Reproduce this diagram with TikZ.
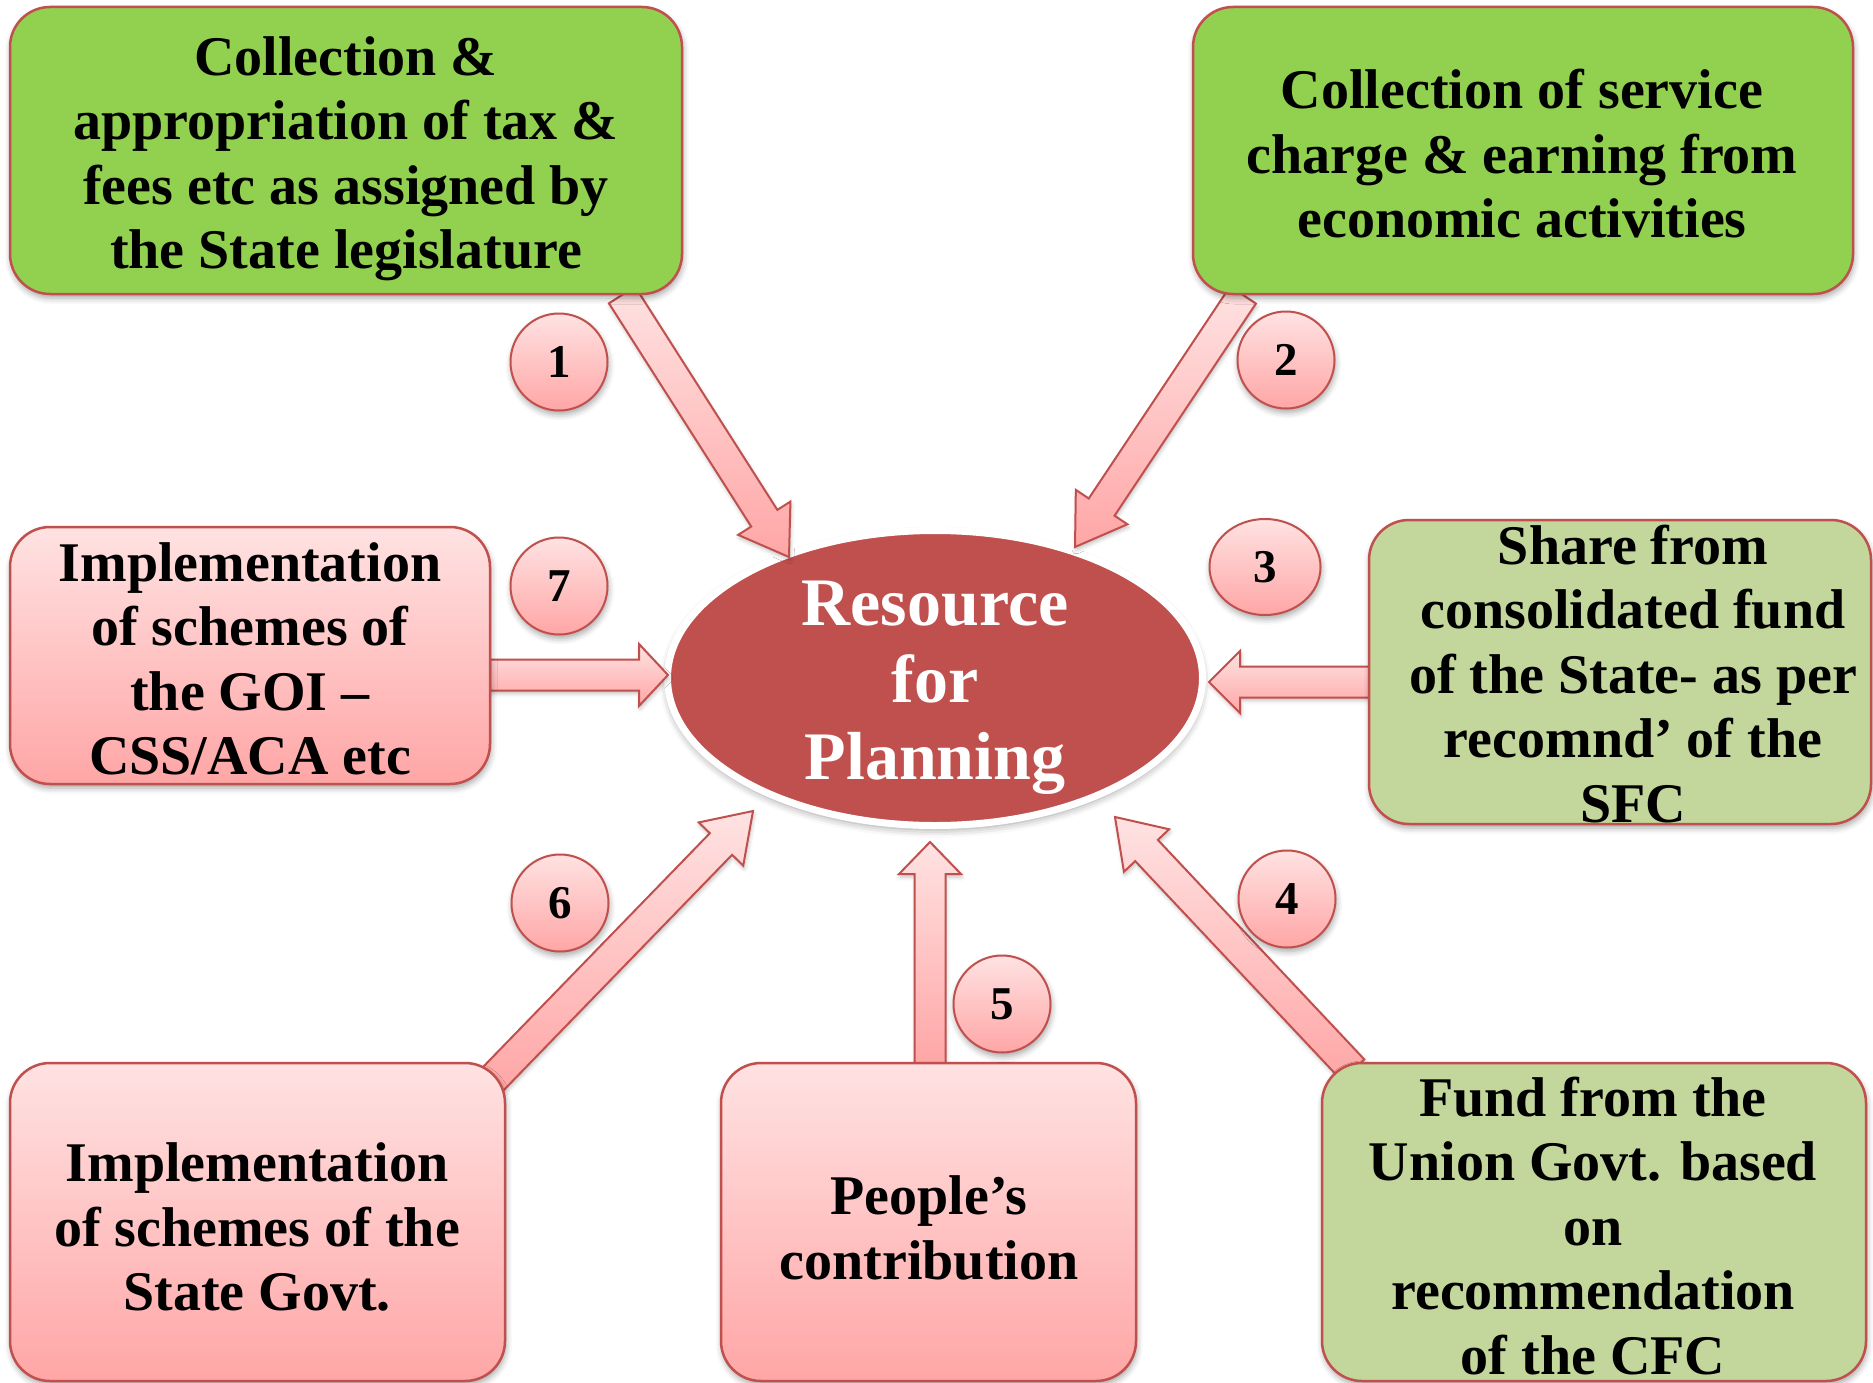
\documentclass[tikz,border=0pt]{standalone}
\usepackage{fontspec}
\setmainfont{Liberation Serif}
\usetikzlibrary{calc,shapes.geometric,shadows.blur}
\definecolor{bord}{HTML}{C0504D}
\definecolor{grn}{HTML}{92D050}
\definecolor{olv}{HTML}{C3D69B}
\definecolor{pinkT}{HTML}{FFE2E2}
\definecolor{pinkB}{HTML}{FFA6A6}
% block arrow from coordinate #1 to coordinate #2, head length #3
\newcommand\blockarrow[3]{%
  \coordinate (#1h) at ($(#2)!#3!(#1)$);
  \path[barrow] ($(#1)!15.5pt!90:(#2)$) -- ($(#1h)!15.5pt!90:(#2)$)
    -- ($(#1h)!31pt!90:(#2)$) -- (#2) -- ($(#1h)!31pt!-90:(#2)$)
    -- ($(#1h)!15.5pt!-90:(#2)$) -- ($(#1)!15.5pt!-90:(#2)$) -- cycle;
}
\begin{document}
\begin{tikzpicture}[x=1pt,y=-1pt,
  shad/.style={blur shadow={shadow xshift=1pt, shadow yshift=-4pt, shadow blur radius=6pt, shadow opacity=35}},
  box/.style={rectangle, rounded corners=40pt, draw=bord, line width=2.5pt, inner sep=0pt, shad},
  gbox/.style={box, fill=grn},
  obox/.style={box, fill=olv},
  pbox/.style={box, top color=pinkT, bottom color=pinkB},
  txt/.style={align=center, font=\bfseries\fontsize{56}{64.5}\selectfont, inner sep=0pt},
  num/.style={ellipse, draw=bord, line width=2pt, top color=pinkT, bottom color=pinkB,
    minimum width=97pt, minimum height=97pt, inner sep=0pt,
    font=\bfseries\fontsize{47}{47}\selectfont, shad},
  barrow/.style={draw=bord, line width=2pt, top color=pinkT, bottom color=pinkB, line join=miter,
    blur shadow={shadow xshift=1pt, shadow yshift=-3pt, shadow blur radius=4pt, shadow opacity=25}}
]
\useasboundingbox (0,0) rectangle (1873,1383);

% central ellipse
\node[ellipse, fill=bord, draw=white, line width=7pt, minimum width=535pt, minimum height=295pt,
  blur shadow={shadow xshift=0pt, shadow yshift=-4pt, shadow blur radius=8pt, shadow opacity=40}] (rp) at (935,678) {};
\node[align=center, text=white, font=\bfseries\fontsize{68}{77}\selectfont, inner sep=0pt] (rpt) at (935,688) {Resource\\for\\Planning};

% arrow end points
\coordinate (s1) at (622,295);  \coordinate (e1) at (789,557);
\coordinate (s2) at (1243,295); \coordinate (e2) at (1075,547);
\coordinate (s3) at (1369,682); \coordinate (e3) at (1209,682);
\coordinate (s7) at (490,675);  \coordinate (e7) at (668,675);
\coordinate (s6) at (491,1081); \coordinate (e6) at (753,811);
\coordinate (s5) at (930,1063); \coordinate (e5) at (930,842);
\coordinate (s4) at (1353,1070);\coordinate (e4) at (1115,817);

\blockarrow{s1}{e1}{46pt}
\blockarrow{s2}{e2}{48pt}
\blockarrow{s3}{e3}{31pt}
\blockarrow{s7}{e7}{29pt}
\blockarrow{s6}{e6}{46pt}
\blockarrow{s5}{e5}{32pt}
\blockarrow{s4}{e4}{46pt}

% boxes
\node[gbox, minimum width=672pt, minimum height=287pt] (b1) at (346,150.5) {};
\node[gbox, minimum width=660pt, minimum height=287pt] (b2) at (1523,150.5) {};
\node[pbox, minimum width=480pt, minimum height=257pt] (b7) at (250,655.5) {};
\node[obox, minimum width=502pt, minimum height=304pt] (b3) at (1620,672) {};
\node[pbox, minimum width=495pt, minimum height=318pt] (b6) at (257.5,1222) {};
\node[pbox, minimum width=415pt, minimum height=318pt] (b5) at (928.5,1222) {};
\node[obox, minimum width=544pt, minimum height=318pt] (b4) at (1594,1222) {};

% texts
\node[txt] (t1) at (346,159) {Collection \&\\appropriation of tax \&\\fees etc as assigned by\\the State legislature};
\node[txt] (t2) at (1522,154) {Collection of service\\charge \& earning from\\economic activities};
\node[txt] (t7) at (250,659) {Implementation\\of schemes of\\the GOI –\\CSS/ACA etc};
\node[txt] (t3) at (1633,674) {Share from\\consolidated fund\\of the State- as per\\recomnd’ of the\\SFC};
\node[txt] (t6) at (257,1227) {Implementation\\of schemes of the\\State Govt.};
\node[txt] (t5) at (929,1228) {People’s\\contribution};
\node[txt] (t4) at (1593,1226) {Fund from the\\Union Govt. based\\on\\recommendation\\of the CFC};

% number badges
\node[num] (c1) at (559,362) {1};
\node[num] (c2) at (1286,360) {2};
\node[num, minimum width=111pt, minimum height=96pt] (c3) at (1265,567) {3};
\node[num] (c7) at (559,586) {7};
\node[num] (c6) at (560,903) {6};
\node[num] (c5) at (1002,1004) {5};
\node[num] (c4) at (1287,899) {4};
\end{tikzpicture}
\end{document}
